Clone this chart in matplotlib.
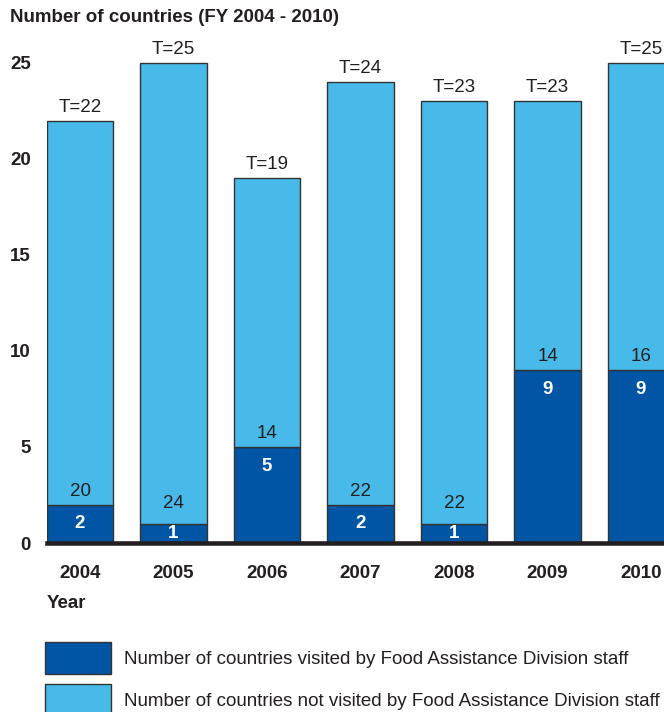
import matplotlib
matplotlib.use("Agg")
import matplotlib.pyplot as plt
from matplotlib.patches import Patch
import numpy as np

years = ["2004", "2005", "2006", "2007", "2008", "2009", "2010"]
visited = [2, 1, 5, 2, 1, 9, 9]
not_visited = [20, 24, 14, 22, 22, 14, 16]
yticks = [0, 5, 10, 15, 20, 25]

DARK = "#0055A5"
LIGHT = "#48BAEA"
EDGE = "#333333"
TXT = "#231F20"
FS = 13.5

plt.rcParams["font.family"] = ["Liberation Sans", "DejaVu Sans"]

fig = plt.figure(figsize=(6.64, 7.12), dpi=100)
W, H = 664, 712
ax_left, ax_bottom = 47 / W, 1 - 543 / H
ax = fig.add_axes([ax_left, ax_bottom, 1 - ax_left, 26 * 19.2 / H])

x = np.arange(len(years))
bw = 0.706
ax.bar(x, visited, width=bw, color=DARK, edgecolor=EDGE, linewidth=1.0, zorder=2)
ax.bar(x, not_visited, width=bw, bottom=visited, color=LIGHT, edgecolor=EDGE,
       linewidth=1.0, zorder=2)

ax.set_xlim(-bw / 2, 6.246)
ax.set_ylim(0, 26)
ax.axhline(0, color=TXT, lw=3.3, zorder=3, clip_on=False)

for i, (v, n) in enumerate(zip(visited, not_visited)):
    tot = v + n
    ax.annotate(f"T={tot}", (x[i], tot), xytext=(0, 9.7), textcoords="offset points",
                ha="center", va="center", fontsize=FS, color=TXT, annotation_clip=False)
    ax.text(x[i], max(v / 2, v - 1.0), str(v), ha="center", va="center",
            fontsize=FS, color="white", fontweight="bold", zorder=2.5, clip_on=True)
    ax.text(x[i], max(v + 0.7, 2.05), str(n), ha="center", va="center",
            fontsize=FS, color=TXT, zorder=4)

ax.set_xticks(x)
ax.set_xticklabels(years, fontsize=FS, fontweight="bold", color=TXT)
ax.set_yticks(yticks)
ax.set_yticklabels([str(t) for t in yticks], fontsize=FS, fontweight="bold", color=TXT)
ax.tick_params(axis="x", length=0, pad=15.5)
ax.tick_params(axis="y", length=0, pad=11.5)
for s in ax.spines.values():
    s.set_visible(False)

fig.text(10 / W, 1 - 17 / H, "Number of countries (FY 2004 - 2010)", fontsize=FS,
         fontweight="bold", color=TXT, ha="left", va="center")
fig.text(47 / W, 1 - 603 / H, "Year", fontsize=FS, fontweight="bold", color=TXT,
         ha="left", va="center")

handles = [Patch(facecolor=DARK, edgecolor=EDGE, linewidth=1.0),
           Patch(facecolor=LIGHT, edgecolor=EDGE, linewidth=1.0)]
labels = ["Number of countries visited by Food Assistance Division staff",
          "Number of countries not visited by Food Assistance Division staff"]
leg = fig.legend(handles, labels, loc="upper left", bbox_to_anchor=(45 / W, 1 - 642 / H),
                 frameon=False, fontsize=FS, handlelength=3.52, handleheight=2.28,
                 handletextpad=0.7, labelspacing=0.49, borderpad=0, borderaxespad=0)
for t in leg.get_texts():
    t.set_color(TXT)

fig.savefig("out.png", dpi=100)
